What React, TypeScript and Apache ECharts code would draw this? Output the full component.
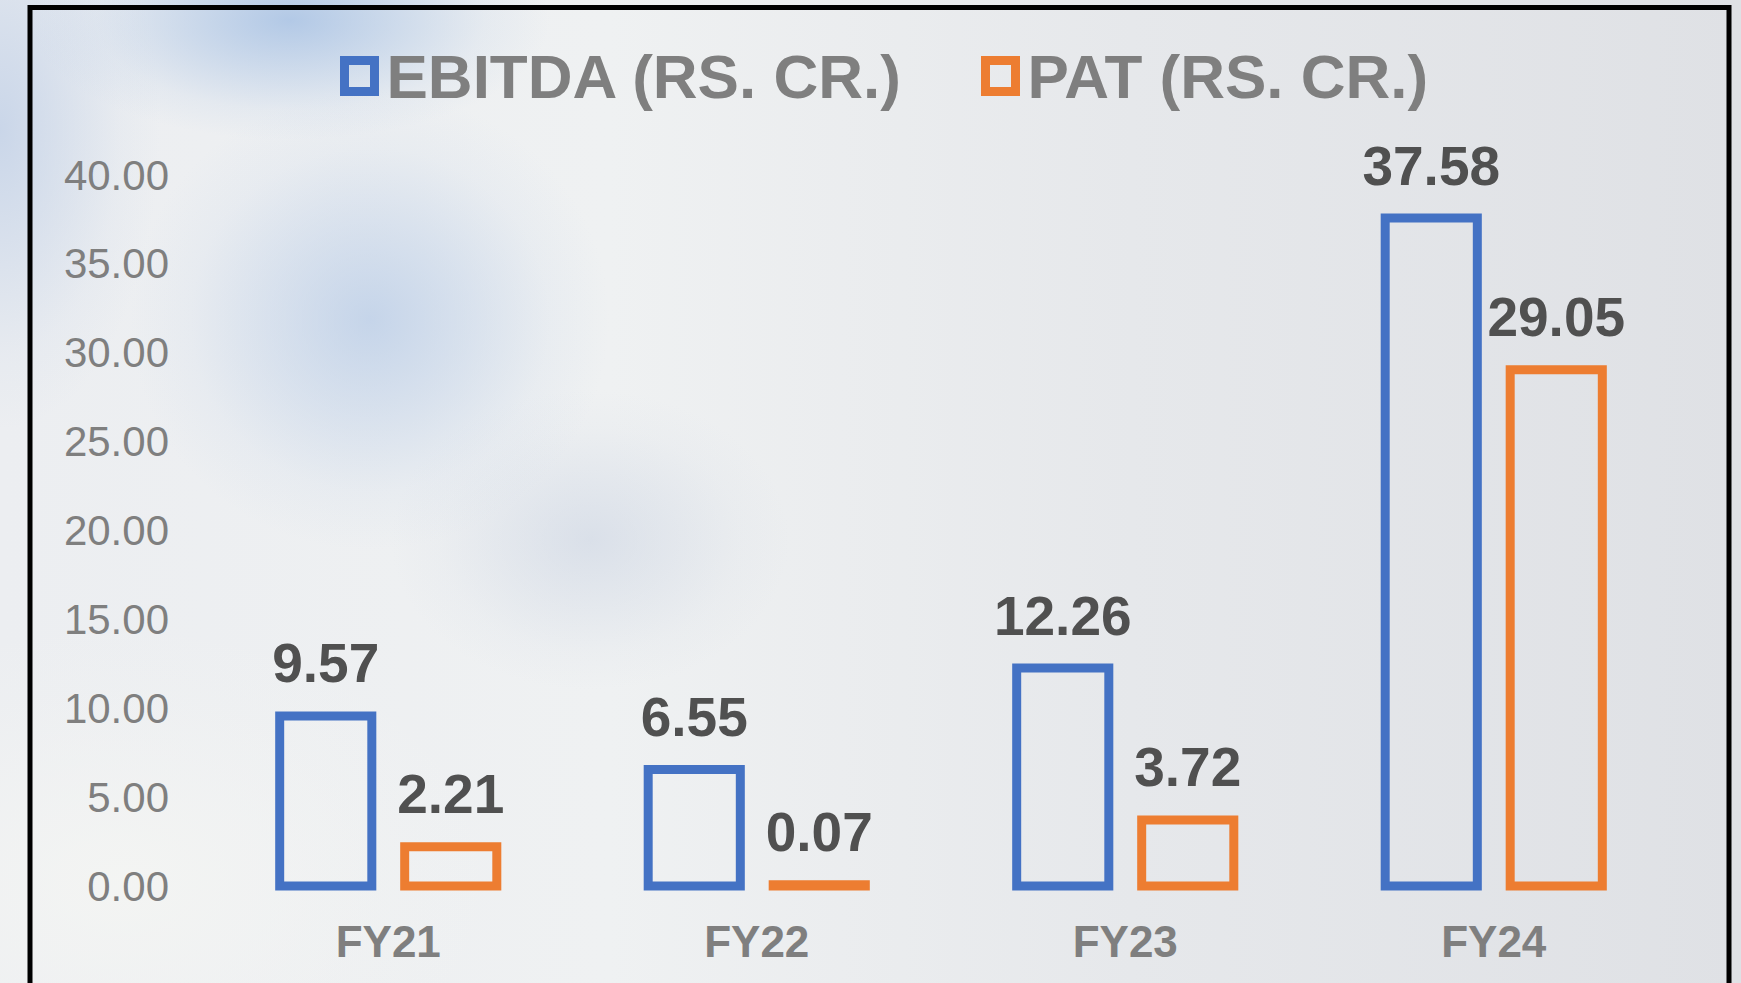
import React, { useEffect, useRef } from "react";
import * as echarts from "echarts";

const categories = ["FY21", "FY22", "FY23", "FY24"];
const ebitda = [9.57, 6.55, 12.26, 37.58];
const pat = [2.21, 0.07, 3.72, 29.05];
const seriesNames = ["EBITDA (RS. CR.)", "PAT (RS. CR.)"];
const yMin = 0;
const yMax = 40;
const yInterval = 5;

const BLUE = "#4472C4";
const ORANGE = "#ED7D31";
const FONT = "'Liberation Sans', Arial, Helvetica, sans-serif";
const STROKE = 9;

function makeSeries(name: string, values: number[], color: string, side: number) {
  return {
    name,
    type: "custom",
    data: values.map((v, i) => [i, v]),
    encode: { x: 0, y: 1 },
    renderItem: (_params: any, api: any) => {
      const cat = api.value(0);
      const val = api.value(1);
      const base = api.coord([cat, 0]);
      const top = api.coord([cat, val]);
      const band = api.size([1, 0])[0];
      const w = band * 0.25;
      const cx = base[0] + side * band * 0.1696;
      return {
        type: "group",
        children: [
          {
            type: "rect",
            shape: { x: cx - w / 2, y: top[1], width: w, height: base[1] - top[1] },
            style: { fill: "none", stroke: color, lineWidth: STROKE },
          },
          {
            type: "text",
            style: {
              text: Number(val).toFixed(2),
              x: cx,
              y: top[1] - 25,
              align: "center",
              verticalAlign: "bottom",
              fontSize: 55,
              fontWeight: "bold",
              fontFamily: FONT,
              fill: "#505050",
            },
          },
        ],
      };
    },
  };
}

export default function App() {
  const ref = useRef<HTMLDivElement>(null);

  useEffect(() => {
    if (!ref.current) return;
    const chart = echarts.init(ref.current, null, { renderer: "svg" });
    const legendText = {
      fontSize: 62,
      fontWeight: "bold",
      color: "#7f7f7f",
      fontFamily: FONT,
      padding: [0, 0, 0, 7],
    };
    chart.setOption({
      animation: false,
      backgroundColor: "transparent",
      grid: { left: 204, right: 63, top: 175, bottom: 97, containLabel: false },
      legend: [
        {
          left: 335,
          top: 40,
          itemWidth: 30,
          itemHeight: 31,
          textStyle: legendText,
          data: [
            {
              name: seriesNames[0],
              icon: "rect",
              itemStyle: { color: "rgba(0,0,0,0)", borderColor: BLUE, borderWidth: STROKE },
            },
          ],
        },
        {
          left: 976,
          top: 40,
          itemWidth: 30,
          itemHeight: 31,
          textStyle: legendText,
          data: [
            {
              name: seriesNames[1],
              icon: "rect",
              itemStyle: { color: "rgba(0,0,0,0)", borderColor: ORANGE, borderWidth: STROKE },
            },
          ],
        },
      ],
      xAxis: {
        type: "category",
        data: categories,
        axisLine: { show: false },
        axisTick: { show: false },
        axisLabel: {
          margin: 33,
          fontSize: 44,
          fontWeight: "bold",
          color: "#7f7f7f",
          fontFamily: FONT,
        },
      },
      yAxis: {
        type: "value",
        min: yMin,
        max: yMax,
        interval: yInterval,
        axisLine: { show: false },
        axisTick: { show: false },
        splitLine: { show: false },
        axisLabel: {
          margin: 35,
          fontSize: 42,
          color: "#7f7f7f",
          fontFamily: FONT,
          formatter: (v: number) => v.toFixed(2),
        },
      },
      series: [
        makeSeries(seriesNames[0], ebitda, BLUE, -1),
        makeSeries(seriesNames[1], pat, ORANGE, 1),
      ],
      graphic: [
        {
          type: "rect",
          silent: true,
          z: 100,
          shape: { x: 30, y: 7.5, width: 1699, height: 1000 },
          style: { fill: "none", stroke: "#000", lineWidth: 5 },
        },
      ],
    });
    return () => chart.dispose();
  }, []);

  const soft = (w: number, h: number, x: number, y: number, c: string, a: number) =>
    `radial-gradient(ellipse ${w}px ${h}px at ${x}px ${y}px, rgba(${c},${a}) 0%, rgba(${c},${(a * 0.55).toFixed(2)}) 40%, rgba(${c},${(a * 0.15).toFixed(2)}) 75%, rgba(${c},0) 100%)`;

  const bg = [
    soft(260, 120, 290, 20, "168,194,228", 0.85),
    soft(240, 230, 370, 320, "180,201,230", 0.7),
    soft(200, 150, 590, 540, "192,203,222", 0.45),
    soft(160, 300, 0, 130, "190,206,230", 0.75),
    soft(380, 260, 120, 880, "244,245,243", 0.9),
    "linear-gradient(to right, #eceef1 0%, #eff1f2 35%, #e6e8eb 65%, #dfe1e5 100%)",
  ].join(", ");

  return (
    <div
      style={{
        position: "fixed",
        left: 0,
        top: 0,
        width: 1741,
        height: 983,
        background: bg,
        overflow: "hidden",
      }}
    >
      <div ref={ref} style={{ width: 1741, height: 983 }} />
    </div>
  );
}
